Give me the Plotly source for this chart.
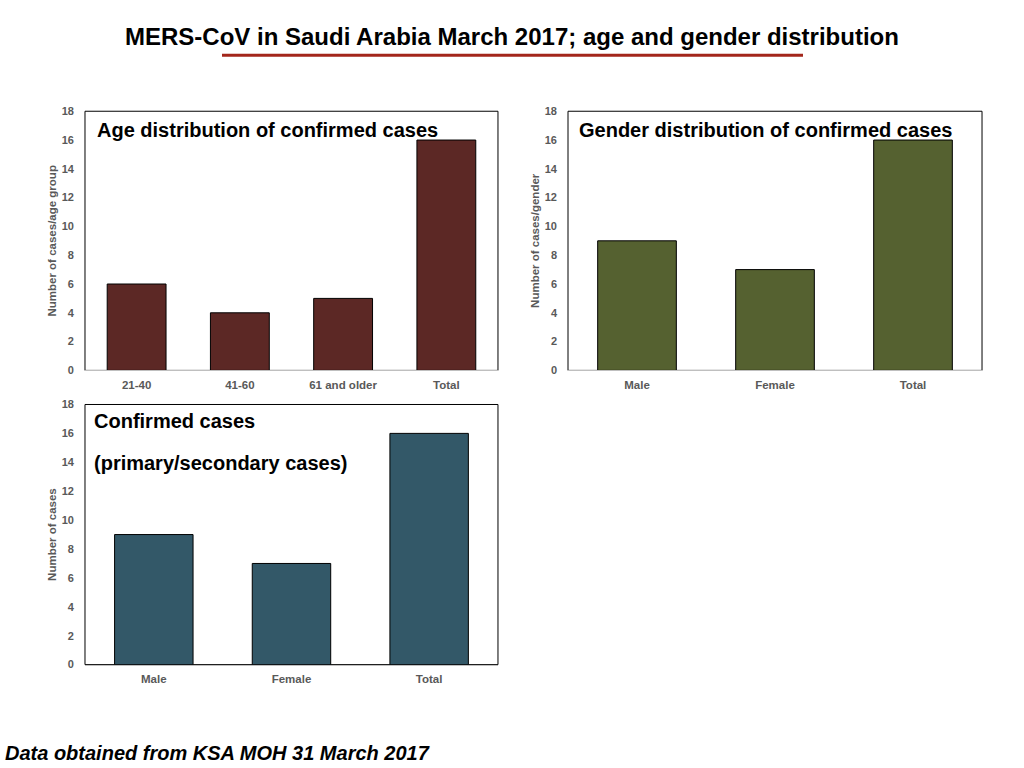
import plotly.graph_objects as go
from plotly.subplots import make_subplots

# data
age_groups = ["21-40", "41-60", "61 and older", "Total"]
age_cases = [6, 4, 5, 16]

genders = ["Male", "Female", "Total"]
gender_cases = [9, 7, 16]

conf_groups = ["Male", "Female", "Total"]
conf_cases = [9, 7, 16]

y_ticks = list(range(0, 19, 2))

fig = make_subplots(rows=2, cols=2)

fig.add_trace(go.Bar(x=age_groups, y=age_cases, marker_color="#5c2825",
                     marker_line=dict(color="black", width=1)), row=1, col=1)
fig.add_trace(go.Bar(x=genders, y=gender_cases, marker_color="#556130",
                     marker_line=dict(color="black", width=1)), row=1, col=2)
fig.add_trace(go.Bar(x=conf_groups, y=conf_cases, marker_color="#335868",
                     marker_line=dict(color="black", width=1)), row=2, col=1)

xtick_font = dict(family="Liberation Sans", size=11.5, color="#595959", weight="bold")
ytick_font = dict(family="Liberation Sans", size=11, color="#595959", weight="bold")
title_font = dict(family="Liberation Sans", size=11.5, color="#595959", weight="bold")

domains = {
    1: ([0.083, 0.4863], [0.518, 0.8608]),
    2: ([0.5547, 0.959], [0.518, 0.8608]),
    3: ([0.083, 0.4863], [0.1288, 0.4729]),
}
ytitles = {1: "Number of cases/age group",
           2: "Number of cases/gender",
           3: "Number of cases"}

for i, (xd, yd) in domains.items():
    sfx = "" if i == 1 else str(i)
    fig.layout["xaxis" + sfx].update(
        domain=xd, showline=True, linecolor="#bfbfbf", linewidth=1,
        ticks="", tickfont=xtick_font, showgrid=False, fixedrange=True,
        ticklabelstandoff=4)
    fig.layout["yaxis" + sfx].update(
        domain=yd, range=[0, 18], tickvals=y_ticks, showgrid=False,
        zeroline=False, tickfont=ytick_font, ticks="", ticklabelstandoff=10,
        fixedrange=True,
        title=dict(text=ytitles[i], font=title_font, standoff=2))
    # black frame around each plot area
    fig.add_shape(type="rect", xref="paper", yref="paper",
                  x0=xd[0], x1=xd[1], y0=yd[0], y1=yd[1],
                  line=dict(color="black", width=1), layer="below")

fig.update_traces(width=0.57, showlegend=False)

ann_font = dict(family="Liberation Sans", size=20, color="black", weight="bold")
notes = [
    (97 / 1024, 0.8356, "Age distribution of confirmed cases"),
    (579 / 1024, 0.8356, "Gender distribution of confirmed cases"),
    (94 / 1024, 0.4504, "Confirmed cases"),
    (94 / 1024, 0.3961, "(primary/secondary cases)"),
]
for x, y, t in notes:
    fig.add_annotation(x=x, y=y, xref="paper", yref="paper", text=t,
                       showarrow=False, xanchor="left", yanchor="middle",
                       font=ann_font, xshift=-2)

fig.add_annotation(x=0.5, y=0.960, xref="paper", yref="paper",
                   text="MERS-CoV in Saudi Arabia March 2017; age and gender distribution",
                   showarrow=False, xanchor="center", yanchor="middle",
                   font=dict(family="Liberation Sans", size=24, color="black",
                             weight="bold"))
fig.add_shape(type="line", xref="paper", yref="paper",
              x0=222 / 1024, x1=803 / 1024, y0=0.9349, y1=0.9349,
              line=dict(color="#a3261b", width=3))

fig.add_annotation(x=5 / 1024, y=0.0122, xref="paper", yref="paper",
                   text="<i>Data obtained from KSA MOH 31 March 2017</i>",
                   showarrow=False, xanchor="left", yanchor="middle", xshift=-2,
                   font=dict(family="Liberation Sans", size=20, color="black",
                             weight="bold"))

fig.update_layout(width=1024, height=768, margin=dict(l=0, r=0, t=0, b=0),
                  paper_bgcolor="white", plot_bgcolor="white")

fig.write_html("out.html", config={"displayModeBar": False},
               post_script="document.body.style.margin='0';"
                           "document.body.style.overflow='hidden';")
